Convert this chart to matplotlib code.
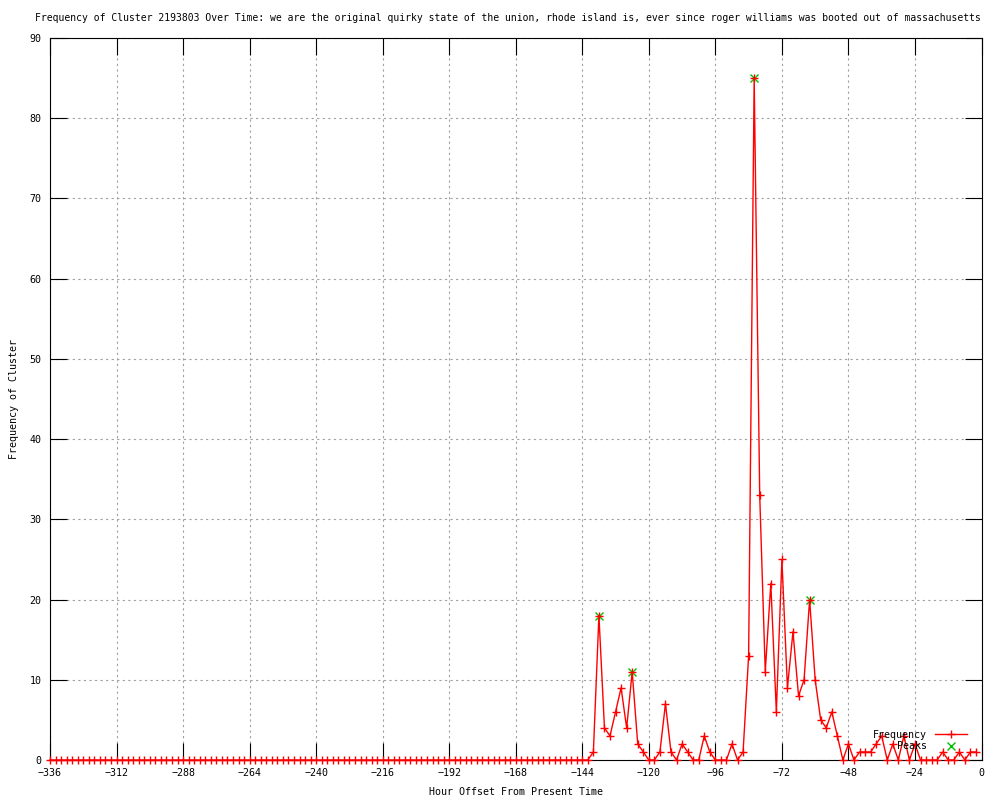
import matplotlib
matplotlib.use("Agg")
import matplotlib.pyplot as plt
import numpy as np

# horas de -336 ate -2, de 2 em 2
hours = np.arange(-336, 0, 2)

# valores (so a parte depois de -144 tem algo)
tail_vals = [0, 1, 18, 4, 3, 6, 9, 4, 11, 2, 1, 0, 0, 1, 7, 1, 0, 2, 1, 0,
             0, 3, 1, 0, 0, 0, 2, 0, 1, 13, 85, 33, 11, 22, 6, 25, 9, 16, 8, 10,
             20, 10, 5, 4, 6, 3, 0, 2, 0, 1, 1, 1, 2, 3, 0, 2, 0, 3, 0, 2,
             0, 0, 0, 0, 1, 0, 0, 1, 0, 1, 1]
freq = [0] * (len(hours) - len(tail_vals)) + tail_vals

peak_hours = [-138, -126, -82, -62]
peak_vals = [18, 11, 85, 20]

title = ("Frequency of Cluster 2193803 Over Time: we are the original quirky state of the union, "
         "rhode island is, ever since roger williams was booted out of massachusetts")

plt.rcParams['font.family'] = 'DejaVu Sans Mono'
fs = 7.2

fig = plt.figure(figsize=(10, 8), dpi=100)
ax = fig.add_axes([0.05, 0.05, 0.9315, 0.9025])

ax.plot(peak_hours, peak_vals, linestyle='none', marker='x', color='#00c000',
        markersize=5.5, markeredgewidth=1, label='Peaks', zorder=3)
ax.plot(hours, freq, color='red', linewidth=1, marker='+', markersize=6,
        markeredgewidth=1, label='Frequency', clip_on=False, zorder=4)

ax.set_xlim(-336, 0)
ax.set_ylim(0, 90)
ax.set_xticks(np.arange(-336, 1, 24))
ax.set_yticks(np.arange(0, 91, 10))
ax.tick_params(direction='in', length=12, width=0.8, top=True, right=True,
               labelsize=fs, pad=6, colors='black')
ax.grid(True, color='#a0a0a0', linestyle=(0, (2, 3)), linewidth=0.8)
for s in ax.spines.values():
    s.set_linewidth(0.8)

ax.set_xlabel('Hour Offset From Present Time', fontsize=fs, labelpad=6)
ax.set_ylabel('Frequency of Cluster', fontsize=fs, labelpad=8)
fig.text(0.5075, 0.977, title, fontsize=7.05, ha='center', va='center')

handles, labels = ax.get_legend_handles_labels()
ax.legend(handles[::-1], labels[::-1], loc='lower right', bbox_to_anchor=(0.99, 0.005),
          frameon=False, markerfirst=False, fontsize=fs, handlelength=3.2,
          labelspacing=0.15, borderpad=0, handletextpad=0.8)

fig.savefig('out.png', dpi=100)
